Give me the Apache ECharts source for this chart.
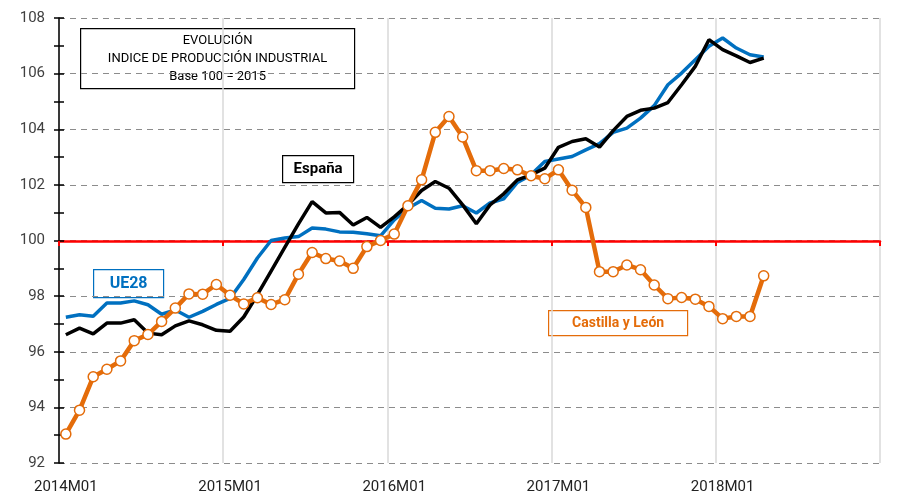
<!DOCTYPE html>
<html>
<head>
<meta charset="utf-8">
<script src="https://cdn.jsdelivr.net/npm/echarts@6/dist/echarts.min.js"></script>
<style>
  html, body { margin: 0; padding: 0; background: #fff; }
  #chart { width: 908px; height: 496px; }
</style>
</head>
<body>
<div id="chart"></div>
<script>
var years = ["2014", "2015", "2016", "2017", "2018"];
var months = ["01", "02", "03", "04", "05", "06", "07", "08", "09", "10", "11", "12"];
var categories = [];
years.forEach(function(y) {
  months.forEach(function(m) { categories.push(y + "M" + m); });
});

var espana = [96.61, 96.85, 96.64, 97.03, 97.03, 97.15, 96.67, 96.61, 96.93, 97.11, 96.97, 96.77,
  96.74, 97.25, 98.05, 98.9, 99.75, 100.6, 101.4, 100.99, 101.01, 100.56, 100.83, 100.47,
  100.85, 101.28, 101.8, 102.12, 101.88, 101.28, 100.6, 101.28, 101.68, 102.18, 102.36, 102.6,
  103.35, 103.56, 103.66, 103.36, 103.95, 104.46, 104.68, 104.76, 104.96, 105.6, 106.26, 107.22,
  106.86, 106.64, 106.4, 106.56];

var ue28 = [97.24, 97.33, 97.28, 97.75, 97.75, 97.83, 97.69, 97.35, 97.5, 97.24, 97.45, 97.7,
  97.92, 98.6, 99.37, 100.0, 100.09, 100.14, 100.45, 100.41, 100.31, 100.3, 100.24, 100.17,
  100.74, 101.16, 101.44, 101.16, 101.13, 101.25, 100.99, 101.35, 101.5, 102.09, 102.36, 102.84,
  102.93, 103.02, 103.26, 103.48, 103.89, 104.04, 104.4, 104.85, 105.6, 106.02, 106.5, 106.98,
  107.28, 106.92, 106.68, 106.6];

var castilla = [93.04, 93.9, 95.1, 95.37, 95.67, 96.4, 96.62, 97.09, 97.57, 98.08, 98.07, 98.42,
  98.03, 97.72, 97.94, 97.7, 97.87, 98.79, 99.57, 99.35, 99.26, 99.0, 99.78, 100.0,
  100.23, 101.25, 102.18, 103.89, 104.46, 103.72, 102.51, 102.51, 102.59, 102.54, 102.33, 102.22,
  102.54, 101.81, 101.19, 98.88, 98.88, 99.12, 98.95, 98.4, 97.91, 97.95, 97.89, 97.63,
  97.19, 97.27, 97.27, 98.73];

var chart = echarts.init(document.getElementById("chart"));
var font = "Roboto, 'Liberation Sans', sans-serif";

var option = {
  animation: false,
  grid: { left: 59, right: 28, top: 18, bottom: 33 },
  xAxis: [
    {
      type: "category",
      data: categories,
      boundaryGap: true,
      axisLine: { show: false },
      axisTick: { show: false },
      axisLabel: { interval: 11, margin: 17, fontSize: 15, color: "#222", fontFamily: font },
      splitLine: { show: true, interval: 11, lineStyle: { color: "#d9d9d9", width: 1.5 } }
    },
    {
      // horizontal axis crossing at 100
      type: "category",
      data: categories,
      position: "bottom",
      offset: -222,
      boundaryGap: true,
      axisLine: { show: true, onZero: false, lineStyle: { color: "#ff0000", width: 2.5 } },
      axisTick: { show: true, interval: 11, length: 5, lineStyle: { color: "#ff0000", width: 2 } },
      axisLabel: { show: false },
      splitLine: { show: false }
    }
  ],
  yAxis: [
    {
      type: "value",
      min: 92,
      max: 108,
      interval: 2,
      axisLine: { show: true, lineStyle: { color: "#000", width: 1.5 } },
      axisTick: { show: true, length: 5, lineStyle: { color: "#000", width: 1.5 } },
      minorTick: { show: true, splitNumber: 2, length: 5, lineStyle: { color: "#000", width: 1.5 } },
      axisLabel: { margin: 14, fontSize: 15, color: "#404040", fontFamily: font },
      splitLine: { show: true, lineStyle: { color: "#8c8c8c", type: [6, 5], width: 1.2 } }
    },
    {
      type: "value",
      min: 92,
      max: 108,
      interval: 2,
      position: "left",
      axisLine: { show: false },
      axisTick: { show: true, inside: true, length: 5, lineStyle: { color: "#000", width: 1.5 } },
      minorTick: { show: true, splitNumber: 2, length: 5, lineStyle: { color: "#000", width: 1.5 } },
      axisLabel: { show: false },
      splitLine: { show: false }
    }
  ],
  series: [
    {
      name: "UE28",
      type: "line",
      data: ue28,
      showSymbol: false,
      symbol: "none",
      lineStyle: { color: "#0070c0", width: 3.5 },
      itemStyle: { color: "#0070c0" },
      z: 3
    },
    {
      name: "España",
      type: "line",
      data: espana,
      showSymbol: false,
      symbol: "none",
      lineStyle: { color: "#000", width: 3.5 },
      itemStyle: { color: "#000" },
      z: 4
    },
    {
      name: "Castilla y León",
      type: "line",
      data: castilla,
      symbol: "circle",
      symbolSize: 10,
      showAllSymbol: true,
      lineStyle: { color: "#e46c0a", width: 4.5 },
      itemStyle: { color: "#fff", borderColor: "#e46c0a", borderWidth: 1.5 },
      z: 5
    }
  ],
  graphic: [
    {
      type: "group",
      left: 80, top: 28,
      children: [
        { type: "rect", shape: { x: 0, y: 0, width: 274, height: 60 },
          style: { fill: "#fff", stroke: "#000", lineWidth: 1.2 } },
        { type: "text", x: 137, y: 12, style: { text: "EVOLUCIÓN", fontSize: 13, fontFamily: font,
          fill: "#000", textAlign: "center", textVerticalAlign: "middle" } },
        { type: "text", x: 137, y: 30, style: { text: "INDICE DE PRODUCCIÓN INDUSTRIAL", fontSize: 13, fontFamily: font,
          fill: "#000", textAlign: "center", textVerticalAlign: "middle" } },
        { type: "text", x: 137, y: 48, style: { text: "Base 100 = 2015", fontSize: 13, fontFamily: font,
          fill: "#000", textAlign: "center", textVerticalAlign: "middle" } }
      ]
    },
    {
      type: "group",
      left: 282, top: 155,
      children: [
        { type: "rect", shape: { x: 0, y: 0, width: 71, height: 27 },
          style: { fill: "#fff", stroke: "#000", lineWidth: 1.2 } },
        { type: "text", x: 35.5, y: 14, style: { text: "España", fontSize: 15, fontWeight: "bold", fontFamily: font,
          fill: "#000", textAlign: "center", textVerticalAlign: "middle" } }
      ]
    },
    {
      type: "group",
      left: 93, top: 269,
      children: [
        { type: "rect", shape: { x: 0, y: 0, width: 70, height: 28 },
          style: { fill: "#fff", stroke: "#0070c0", lineWidth: 1.2 } },
        { type: "text", x: 35, y: 14.5, style: { text: "UE28", fontSize: 16, fontWeight: "bold", fontFamily: font,
          fill: "#0070c0", textAlign: "center", textVerticalAlign: "middle" } }
      ]
    },
    {
      type: "group",
      left: 548, top: 310,
      children: [
        { type: "rect", shape: { x: 0, y: 0, width: 139, height: 25 },
          style: { fill: "#fff", stroke: "#e46c0a", lineWidth: 1.2 } },
        { type: "text", x: 69.5, y: 13, style: { text: "Castilla y León", fontSize: 14, fontWeight: "bold", fontFamily: font,
          fill: "#e46c0a", textAlign: "center", textVerticalAlign: "middle" } }
      ]
    }
  ]
};

chart.setOption(option);
</script>
</body>
</html>
